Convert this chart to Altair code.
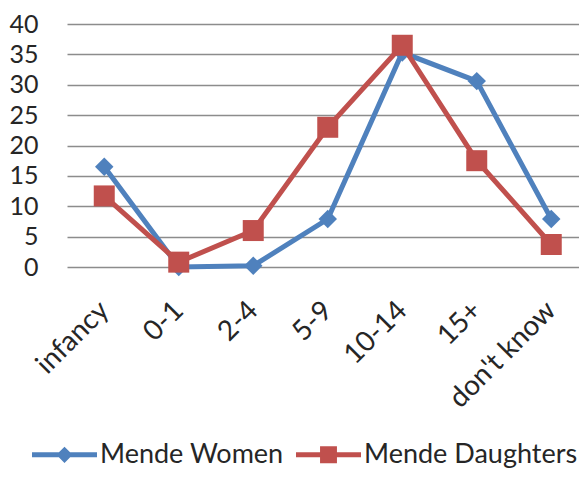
import altair as alt
import pandas as pd

categories = ["infancy", "0-1", "2-4", "5-9", "10-14", "15+", "don't know"]
women = [16.5, 0.0, 0.2, 7.9, 35.3, 30.6, 7.9]
daughters = [11.7, 0.8, 6.0, 23.0, 36.5, 17.5, 3.7]
series_names = ["Mende Women", "Mende Daughters"]
y_ticks = [0, 5, 10, 15, 20, 25, 30, 35, 40]

colors = ["#4F81BD", "#C0504D"]
FONT = "Lato"
TEXT = "#262626"

rows = []
for s, vals in zip(series_names, [women, daughters]):
    for c, v in zip(categories, vals):
        rows.append({"category": c, "value": v, "series": s})
df = pd.DataFrame(rows)

x_enc = alt.X(
    "category:N",
    sort=categories,
    scale=alt.Scale(type="point", range=[0, 521.5], padding=0.5),
    axis=alt.Axis(
        title=None, labelAngle=-45, labelAlign="right", labelBaseline="middle",
        labelPadding=39, labelFontSize=28, labelFont=FONT, labelColor=TEXT,
        ticks=False, domain=False, grid=False, labelOverlap=False,
    ),
)
y_enc = alt.Y(
    "value:Q",
    scale=alt.Scale(domain=[0, 40], nice=False),
    axis=alt.Axis(
        values=y_ticks, title=None, labelFontSize=25, labelFont=FONT,
        labelColor=TEXT, labelPadding=29, ticks=False, domain=False,
        grid=True, gridColor="#8c8c8c", gridWidth=1.3,
    ),
)

base = alt.Chart(df)

women_line = base.transform_filter(alt.datum.series == "Mende Women").mark_line(
    strokeWidth=5, color=colors[0]
).encode(x=x_enc, y=y_enc)

women_pts = base.transform_filter(alt.datum.series == "Mende Women").mark_point(
    shape="diamond", filled=True, size=340, opacity=1, color=colors[0]
).encode(x=x_enc, y=y_enc)

daughter_line = base.transform_filter(alt.datum.series == "Mende Daughters").mark_line(
    strokeWidth=5, color=colors[1]
).encode(x=x_enc, y=y_enc)

daughter_pts = base.transform_filter(alt.datum.series == "Mende Daughters").mark_square(
    size=441, opacity=1, color=colors[1]
).encode(x=x_enc, y=y_enc)

path_w = ("M-1,-0.077 L1,-0.077 L1,0.077 L-1,0.077 Z "
          "M0,-0.25 L0.25,0 L0,0.25 L-0.25,0 Z")
path_d = ("M-1,-0.077 L1,-0.077 L1,0.077 L-1,0.077 Z "
          "M-0.26,-0.26 L0.26,-0.26 L0.26,0.26 L-0.26,0.26 Z")

leg = alt.Legend(
    orient="none", legendX=-35, legendY=398, direction="horizontal", title=None,
    labelFont=FONT, labelFontSize=27, labelColor=TEXT, symbolSize=4225,
    symbolStrokeWidth=0, labelOffset=3, columnPadding=12, padding=0, labelLimit=400,
)

legend_layer = base.mark_point(
    filled=True, size=4225, opacity=1, strokeWidth=0
).encode(
    x=x_enc,
    y=alt.value(-2000),
    fill=alt.Fill("series:N", scale=alt.Scale(domain=series_names, range=colors), legend=leg),
    shape=alt.Shape("series:N", scale=alt.Scale(domain=series_names, range=[path_w, path_d]), legend=leg),
)

chart = alt.layer(women_line, women_pts, daughter_line, daughter_pts, legend_layer).properties(
    width=512,
    height=243,
    autosize=alt.AutoSizeParams(type="none"),
    padding={"left": 59, "top": 16, "right": 0, "bottom": 203},
).configure_view(stroke=None)

chart.save("out.html", embed_options={"renderer": "svg", "actions": False})
